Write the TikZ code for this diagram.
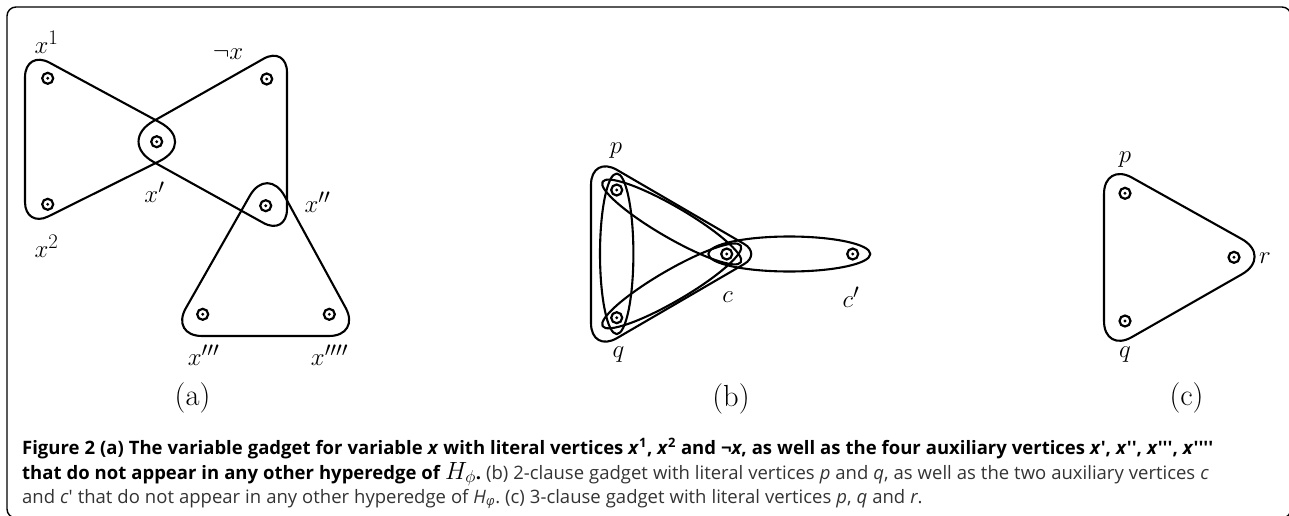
\documentclass[tikz,border=0pt]{standalone}
\usepackage{fontspec}
\newfontfamily\capfont{Open Sans}
\usetikzlibrary{calc}
\newcommand\capline[2]{\hbox to #1{\spaceskip=0.27em plus 0.6em minus 0.1em\xspaceskip=\spaceskip #2\hfil}}
\tikzset{
  hedge/.style={line width=2.1pt, line join=round},
  vtx/.style={circle, draw, line width=2.2pt, minimum size=11pt, inner sep=0pt,
    path picture={\fill (path picture bounding box.center) circle (1.6pt);}},
  lbl/.style={inner sep=0pt, font=\fontsize{30.5}{33}\selectfont},
  captext/.style={inner sep=0pt, anchor=base west, font=\capfont\fontsize{18.5}{21}\selectfont},
  rc/.style n args={4}{insert path={-- ($(#2)!#4pt!(#1)$) .. controls ($(#2)!0.45*#4pt!(#1)$) and ($(#2)!0.45*#4pt!(#3)$) .. ($(#2)!#4pt!(#3)$)}},
  frameline/.style={line width=1.4pt, rounded corners=9pt},
}
\begin{document}
\begin{tikzpicture}[x=1pt,y=-1pt]
\useasboundingbox (0,0) rectangle (1289,516);
\begin{scope}
  \clip (0,0) rectangle (1289,516);
  \draw[frameline] (7,7) rectangle (1291,518);
\end{scope}

% ---------------- (a) ----------------
\node[vtx] (x1) at (47.7,78.3) {};
\node[vtx] (nx) at (266.7,79) {};
\node[vtx] (xp) at (156.7,141.7) {};
\node[vtx] (x2) at (47.7,204.3) {};
\node[vtx] (xpp) at (265.7,205.7) {};
\node[vtx] (xppp) at (202.7,314.3) {};
\node[vtx] (xpppp) at (329.3,314.3) {};

\coordinate (LA) at (25,49.4);
\coordinate (LB) at (25,228);
\coordinate (LC) at (197,142.5);
\draw[hedge] ($(LA)!0.5!(LB)$) [rc={LB}{LA}{LC}{28}] [rc={LA}{LC}{LB}{42}] [rc={LC}{LB}{LA}{26}] -- cycle;

\coordinate (RA) at (287,45.5);
\coordinate (RB) at (287,236);
\coordinate (RC) at (117,141.7);
\draw[hedge] ($(RA)!0.5!(RB)$) [rc={RB}{RA}{RC}{27}] [rc={RA}{RC}{RB}{42}] [rc={RC}{RB}{RA}{27}] -- cycle;

\coordinate (TA) at (267.5,164.7);
\coordinate (TB) at (170,336);
\coordinate (TC) at (361,336);
\draw[hedge] ($(TB)!0.5!(TC)$) [rc={TB}{TC}{TA}{32}] [rc={TC}{TA}{TB}{36}] [rc={TA}{TB}{TC}{32}] -- cycle;

\node[lbl] (lx1) at (46.5,42.5) {$x^1$};
\node[lbl] (lnx) at (228,54) {$\neg x$};
\node[lbl] (lxp) at (154.5,192.5) {$x'$};
\node[lbl] (lxpp) at (317.5,202.5) {$x''$};
\node[lbl] (lx2) at (46.5,246.5) {$x^2$};
\node[lbl] (lxppp) at (203.5,355.5) {$x'''$};
\node[lbl] (lxpppp) at (329.5,355.5) {$x''''$};
\node[lbl] (la) at (192.5,397.5) {(a)};

% ---------------- (b) ----------------
\node[vtx] (bp) at (616.7,190) {};
\node[vtx] (bq) at (616.7,317.7) {};
\node[vtx] (bc) at (726.7,254) {};
\node[vtx] (bcc) at (852.7,254) {};

\coordinate (BA) at (591,154.8);
\coordinate (BB) at (591,353.2);
\coordinate (BC) at (761.4,254);
\draw[hedge] ($(BA)!0.5!(BB)$) [rc={BB}{BA}{BC}{30}] [rc={BA}{BC}{BB}{20}] [rc={BC}{BB}{BA}{30}] -- cycle;

\draw[hedge] (616.7,253.8) ellipse [x radius=16.7, y radius=80.3];
\draw[hedge, rotate around={-30.2:(671.7,222)}] (671.7,222) ellipse [x radius=80, y radius=15.5];
\draw[hedge, rotate around={30.2:(671.7,285.9)}] (671.7,285.9) ellipse [x radius=80, y radius=15.5];
\draw[hedge] (789.3,254) ellipse [x radius=81, y radius=17.5];

\node[lbl] (lbp) at (616,150.5) {$p$};
\node[lbl] (lbq) at (618.5,355) {$q$};
\node[lbl] (lbc) at (727.5,297.5) {$c$};
\node[lbl] (lbcc) at (851,297.5) {$c'$};
\node[lbl] (lb) at (731,398.5) {(b)};

% ---------------- (c) ----------------
\node[vtx] (cp) at (1125,193.3) {};
\node[vtx] (cq) at (1125,321) {};
\node[vtx] (cr) at (1234,257.3) {};

\coordinate (CA) at (1104,162);
\coordinate (CB) at (1104,353);
\coordinate (CC) at (1273,256.5);
\draw[hedge] ($(CA)!0.5!(CB)$) [rc={CB}{CA}{CC}{32}] [rc={CA}{CC}{CB}{36}] [rc={CC}{CB}{CA}{32}] -- cycle;

\node[lbl] (lcp) at (1125,160) {$p$};
\node[lbl] (lcq) at (1125,355) {$q$};
\node[lbl] (lcr) at (1265,258.5) {$r$};
\node[lbl] (lc) at (1186.5,397.5) {(c)};

% ---------------- caption ----------------
\node[captext] (cap1) at (22,454) {\capline{1245pt}{\bfseries Figure 2 (a) The variable gadget for variable \textit{x} with literal vertices \textit{x}\textsuperscript{1}, \textit{x}\textsuperscript{2} and ¬\textit{x}, as well as the four auxiliary vertices \textit{x}', \textit{x}'', \textit{x}''', \textit{x}''''}};
\node[captext] (cap2) at (22,479) {\capline{1218pt}{\textbf{that do not appear in any other hyperedge of {\fontsize{23}{25}\selectfont$H_{\phi}$}.} \color{black!80}(b) 2-clause gadget with literal vertices \textit{p} and \textit{q}, as well as the two auxiliary vertices \textit{c}}};
\node[captext, text=black!80] (cap3) at (22,503) {\capline{925pt}{and \textit{c}' that do not appear in any other hyperedge of \textit{H}\textsubscript{\textit{φ}}. (c) 3-clause gadget with literal vertices \textit{p}, \textit{q} and \textit{r}.}};
\end{tikzpicture}
\end{document}
